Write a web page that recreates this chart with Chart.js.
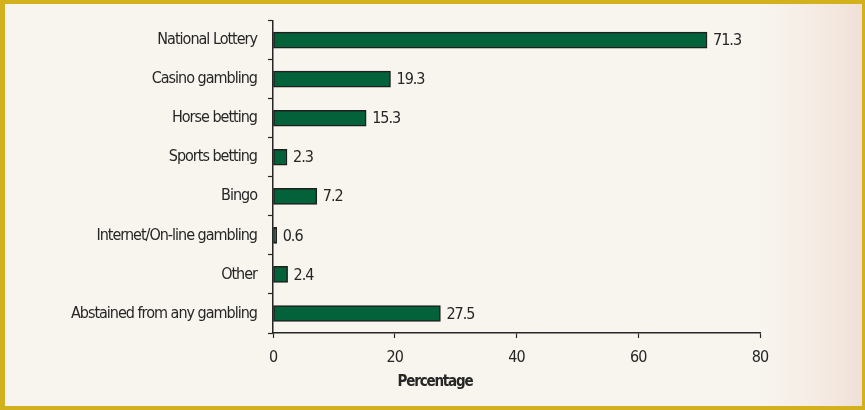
<!DOCTYPE html>
<html>
<head>
<meta charset="utf-8">
<script src="https://cdn.jsdelivr.net/npm/chart.js@4/dist/chart.umd.min.js"></script>
<style>
  html, body { margin: 0; padding: 0; }
  #frame {
    position: absolute; left: 0; top: 0;
    width: 865px; height: 410px; box-sizing: border-box;
    border-style: solid; border-color: #d3b01d;
    border-width: 4px 3px 4px 5px;
    background: linear-gradient(90deg, #f8f5ef 0%, #f8f5ef 88%, #f5ebe3 95%, #f0e0d7 100%);
  }
  #chart { position: absolute; left: 0; top: 0; }
</style>
</head>
<body>
<div id="frame"></div>
<canvas id="chart" width="865" height="410"></canvas>
<script>
const categories = [
    "National Lottery",
    "Casino gambling",
    "Horse betting",
    "Sports betting",
    "Bingo",
    "Internet/On-line gambling",
    "Other",
    "Abstained from any gambling"
];
const percentages = [71.3, 19.3, 15.3, 2.3, 7.2, 0.6, 2.4, 27.5];
const axisTitle = "Percentage";
const axisMin = 0;
const axisMax = 80;
const axisStep = 20;

const ink = "#262626";
const narrow = "'Liberation Sans Narrow', 'DejaVu Sans Condensed', sans-serif";

// tighten all canvas text a little so the condensed face reads narrower
const tightText = {
    id: "tightText",
    beforeUpdate(chart) { chart.ctx.letterSpacing = "-1px"; },
    beforeDraw(chart) { chart.ctx.letterSpacing = "-1px"; }
};

// numbers printed just past the end of each bar
const valueLabels = {
    id: "valueLabels",
    afterDatasetsDraw(chart) {
        const ctx = chart.ctx;
        const meta = chart.getDatasetMeta(0);
        ctx.save();
        ctx.font = "16px " + narrow;
        ctx.fillStyle = ink;
        ctx.textAlign = "left";
        ctx.textBaseline = "middle";
        meta.data.forEach((bar, i) => {
            ctx.fillText(percentages[i].toFixed(1), bar.x + 6, bar.y + 1);
        });
        ctx.restore();
    }
};

// axis caption, centred under the whole figure
const bottomCaption = {
    id: "bottomCaption",
    afterDraw(chart) {
        const ctx = chart.ctx;
        ctx.save();
        ctx.font = "bold 15px " + narrow;
        ctx.letterSpacing = "-1.2px";
        ctx.fillStyle = ink;
        ctx.textAlign = "center";
        ctx.textBaseline = "middle";
        ctx.fillText(axisTitle, 435, 382);
        ctx.restore();
    }
};

const context = document.getElementById("chart").getContext("2d");
const chart = new Chart(context, {
    type: "bar",
    data: {
        labels: categories,
        datasets: [{
            data: percentages,
            backgroundColor: "#04623a",
            borderColor: "#1e1e1e",
            borderWidth: 1.5,
            borderSkipped: false,
            barThickness: 16
        }]
    },
    options: {
        indexAxis: "y",
        responsive: false,
        animation: false,
        events: [],
        layout: { padding: { top: 18, right: 105, bottom: 0, left: 0 } },
        plugins: {
            legend: { display: false },
            tooltip: { enabled: false }
        },
        scales: {
            x: {
                min: axisMin,
                max: axisMax,
                afterFit: s => { s.height = 77; },
                ticks: {
                    stepSize: axisStep,
                    padding: 10,
                    color: ink,
                    font: { family: narrow, size: 16 }
                },
                grid: {
                    drawOnChartArea: false,
                    drawTicks: true,
                    tickLength: 5,
                    tickColor: ink,
                    tickWidth: 1.2
                },
                border: { display: true, color: ink, width: 1.5 }
            },
            y: {
                afterFit: s => { s.width = 273; },
                ticks: {
                    padding: 11,
                    color: ink,
                    font: { family: narrow, size: 16 }
                },
                grid: {
                    offset: true,
                    drawOnChartArea: false,
                    drawTicks: true,
                    tickLength: 5,
                    tickColor: ink,
                    tickWidth: 1.2
                },
                border: { display: true, color: ink, width: 1.5 }
            }
        }
    },
    plugins: [tightText, valueLabels, bottomCaption]
});
</script>
</body>
</html>
